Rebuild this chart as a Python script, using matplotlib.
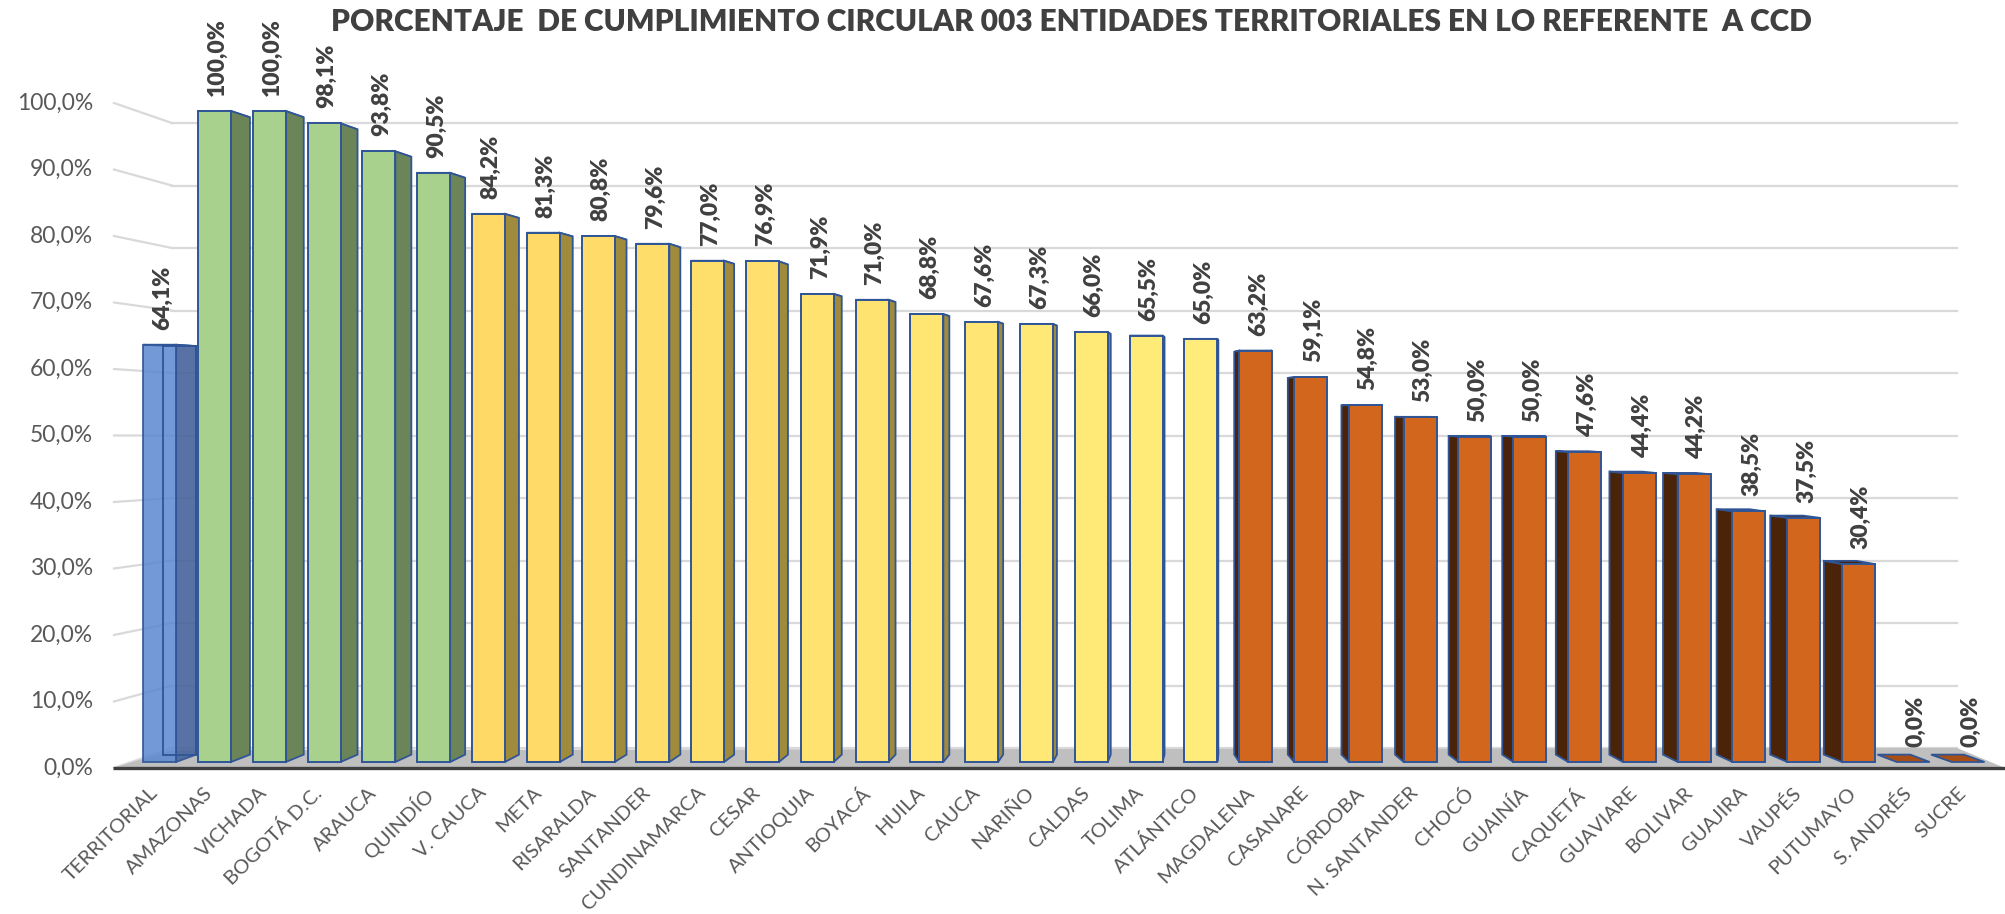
import matplotlib
matplotlib.use("Agg")
import matplotlib.pyplot as plt
from matplotlib.colors import to_rgb
import numpy as np

titulo = "PORCENTAJE  DE CUMPLIMIENTO CIRCULAR 003 ENTIDADES TERRITORIALES EN LO REFERENTE  A CCD"

entidades = ["TERRITORIAL", "AMAZONAS", "VICHADA", "BOGOTÁ D.C.", "ARAUCA", "QUINDÍO",
             "V. CAUCA", "META", "RISARALDA", "SANTANDER", "CUNDINAMARCA", "CESAR",
             "ANTIOQUIA", "BOYACÁ", "HUILA", "CAUCA", "NARIÑO", "CALDAS", "TOLIMA",
             "ATLÁNTICO", "MAGDALENA", "CASANARE", "CÓRDOBA", "N. SANTANDER", "CHOCÓ",
             "GUAINÍA", "CAQUETÁ", "GUAVIARE", "BOLIVAR", "GUAJIRA", "VAUPÉS",
             "PUTUMAYO", "S. ANDRÉS", "SUCRE"]
porcentajes = [64.1, 100.0, 100.0, 98.1, 93.8, 90.5,
               84.2, 81.3, 80.8, 79.6, 77.0, 76.9,
               71.9, 71.0, 68.8, 67.6, 67.3, 66.0, 65.5,
               65.0, 63.2, 59.1, 54.8, 53.0, 50.0,
               50.0, 47.6, 44.4, 44.2, 38.5, 37.5,
               30.4, 0.0, 0.0]
grupos = ["total"] + ["verde"] * 5 + ["amarillo"] * 14 + ["naranja"] * 14
yticks = [0, 10, 20, 30, 40, 50, 60, 70, 80, 90, 100]

# colores: (frente, lado)
colores = {
    "total": ("#5B87D0", "#46639B"),
    "verde": ("#A9D18E", "#6B8559"),
    "amarillo": ("#FFD966", "#A08A3C"),
    "naranja": ("#D2661C", "#4A2309"),
}
borde = "#2F5597"

# escala en pixeles de la figura (2005x914 a 100 dpi)
PX_CAT = 54.8
PX_100 = 651.0
X0_PX = 159.7
Y0_PX = 762.0


def xpx(px):
    return (px - X0_PX) / PX_CAT


def ypx(px):
    return (Y0_PX - px) / PX_100


plt.rcParams["font.family"] = ["Lato", "DejaVu Sans"]

fig = plt.figure(figsize=(20.05, 9.14), dpi=100)
ax = fig.add_axes([0, 0, 1, 1])
ax.set_xlim(xpx(0), xpx(2005))
ax.set_ylim(ypx(914), ypx(0))
ax.axis("off")

n = len(entidades)
x = np.arange(n)
v = np.array(porcentajes) / 100.0
ancho = 0.60
S = 0.021      # profundidad
YVP = 0.54     # altura del punto de fuga

# pared del fondo: lineas de division y marcas inclinadas
for g in yticks:
    f = g / 100.0
    yb = 0.0215 + 0.960 * f
    yf = -0.0092 + 1.0215 * f
    ax.plot([xpx(172), xpx(1957)], [yb, yb], color="#D9D9D9", lw=1.6, zorder=1)
    ax.plot([xpx(114), xpx(172)], [yf, yb], color="#D9D9D9", lw=1.6, zorder=1)
    ax.text(xpx(93), yf, f"{g:.1f}".replace(".", ",") + "%", ha="right", va="center",
            fontsize=16.5, color="#595959")

# piso
ax.fill([xpx(113), xpx(2005), xpx(1957), xpx(172)],
        [ypx(768), ypx(768), ypx(748), ypx(750)], color="#BFBFBF", zorder=2, lw=0)
ax.plot([xpx(113), xpx(2005)], [ypx(768), ypx(768)], color="#3F3F3F", lw=2.4,
        zorder=3, solid_capstyle="butt")

# color del frente: amarillo se aclara hacia la derecha
idx_am = [i for i in range(n) if grupos[i] == "amarillo"]
frentes = []
lados = []
for i in range(n):
    fr, la = colores[grupos[i]]
    if grupos[i] == "amarillo":
        t = idx_am.index(i) / (len(idx_am) - 1)
        a = np.array(to_rgb("#FFD966"))
        b = np.array(to_rgb("#FFEC7A"))
        fr = tuple(a + (b - a) * t)
    frentes.append(fr)
    lados.append(la)

for i in range(n):
    c = x[i]
    val = v[i]
    if i <= 19:
        w = xpx(X0_PX + (20 - i) * 1.0)
        xe = c + ancho / 2
        xb = xe + w
        xt0, xt1 = c - ancho / 2 + w, c + ancho / 2 + w
    else:
        w = xpx(X0_PX + 1.2 * (i - 15.8))
        xe = c - ancho / 2
        xb = xe - w
        xt0, xt1 = c - ancho / 2 - w, c + ancho / 2 - w
    top_b = val + S * (YVP - val)
    bot_b = S * YVP
    # cara superior
    ax.fill([c - ancho / 2, c + ancho / 2, xt1, xt0], [val, val, top_b, top_b],
            facecolor=lados[i] if val > 0 else "#A84E14", edgecolor=borde, lw=1.3, zorder=4)
    # lado
    if val > 0:
        ax.fill([xe, xe, xb, xb], [0, val, top_b, bot_b], facecolor=lados[i],
                edgecolor=borde, lw=1.3, zorder=4, alpha=0.9 if grupos[i] == "total" else 1)
    if grupos[i] == "total":
        # cara trasera vista a traves de la barra translucida
        ax.fill([xt0, xt1, xt1, xt0], [bot_b, bot_b, top_b, top_b], facecolor="none",
                edgecolor=borde, lw=1.3, zorder=6)

barras = ax.bar(x, v, width=ancho, color=frentes, edgecolor=borde, linewidth=1.4,
                zorder=5)
for i, b in enumerate(barras):
    if v[i] == 0:
        b.set_visible(False)
    if grupos[i] == "total":
        b.set_alpha(0.85)

for i in range(n):
    ax.text(x[i] + 0.05, v[i] + ypx(Y0_PX - 15), f"{porcentajes[i]:.1f}".replace(".", ",") + "%",
            rotation=90, ha="center", va="bottom", fontsize=16.5, fontweight="heavy",
            color="#404040", zorder=7)
    ax.text(x[i] - 0.2, ypx(784), entidades[i], rotation=45, rotation_mode="anchor",
            ha="right", va="top", fontsize=14.5, color="#595959")

fig.text(1071 / 2005, 1 - 22 / 914, titulo, ha="center", va="center", fontsize=21.5,
         fontweight="heavy", color="#404040")

fig.savefig("out.png", dpi=100, facecolor="white")
